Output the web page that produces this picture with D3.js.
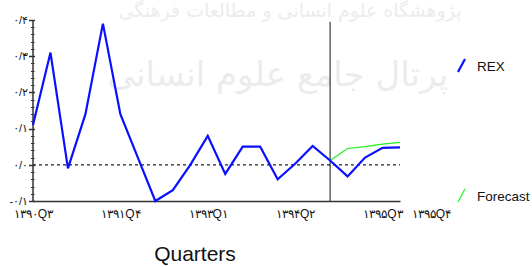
<!DOCTYPE html>
<html>
<head>
<meta charset="utf-8">
<script src="https://cdn.jsdelivr.net/npm/d3@7"></script>
<style>
  body { margin: 0; background: #fff; }
  svg { display: block; font-family: "Liberation Sans", "DejaVu Sans", Arial, sans-serif; }
</style>
</head>
<body>
<div id="chart"></div>
<script>
// quarters 1390Q3 .. 1395Q4
var quarters = ["۱۳۹۰Q۳", "۱۳۹۰Q۴",
  "۱۳۹۱Q۱", "۱۳۹۱Q۲", "۱۳۹۱Q۳", "۱۳۹۱Q۴",
  "۱۳۹۲Q۱", "۱۳۹۲Q۲", "۱۳۹۲Q۳", "۱۳۹۲Q۴",
  "۱۳۹۳Q۱", "۱۳۹۳Q۲", "۱۳۹۳Q۳", "۱۳۹۳Q۴",
  "۱۳۹۴Q۱", "۱۳۹۴Q۲", "۱۳۹۴Q۳", "۱۳۹۴Q۴",
  "۱۳۹۵Q۱", "۱۳۹۵Q۲", "۱۳۹۵Q۳", "۱۳۹۵Q۴"];

var rex = [0.11, 0.31, -0.01, 0.14, 0.39, 0.14, 0.02, -0.10, -0.07, 0.0, 0.08,
  -0.025, 0.05, 0.05, -0.04, 0.003, 0.052, 0.012, -0.032, 0.02, 0.047, 0.048];

var forecastQuarters = ["۱۳۹۴Q۴", "۱۳۹۵Q۱", "۱۳۹۵Q۲", "۱۳۹۵Q۳", "۱۳۹۵Q۴"];
var forecast = [0.012, 0.045, 0.05, 0.057, 0.062];

var xTickLabels = ["۱۳۹۰Q۳", "۱۳۹۱Q۴", "۱۳۹۳Q۱", "۱۳۹۴Q۲", "۱۳۹۵Q۳", "۱۳۹۵Q۴"];
var yTicks = [-0.1, 0, 0.1, 0.2, 0.3, 0.4];
var yTickLabels = ["-۰/۱", "۰/۰", "۰/۱", "۰/۲", "۰/۳", "۰/۴"];
var splitQuarter = "۱۳۹۴Q۴";
var seriesNames = ["REX", "Forecast"];

var width = 532, height = 267;
var margin = {top: 20, left: 33, bottom: 66, right: 132};

var svg = d3.select("#chart").append("svg")
  .attr("width", width)
  .attr("height", height);

// faint watermark in the background
var wm = svg.append("g").attr("fill", "#ececec").attr("font-family", "DejaVu Sans");
wm.append("text")
  .attr("x", 290).attr("y", 17)
  .attr("text-anchor", "middle")
  .attr("font-size", 19)
  .attr("direction", "rtl")
  .text("پژوهشگاه علوم انسانی و مطالعات فرهنگی");
wm.append("text")
  .attr("x", 278).attr("y", 86)
  .attr("text-anchor", "middle")
  .attr("font-size", 34)
  .attr("direction", "rtl")
  .text("پرتال جامع علوم انسانی");

var x = d3.scalePoint()
  .domain(quarters)
  .range([margin.left, width - margin.right]);

var y = d3.scaleLinear()
  .domain([-0.1, 0.4])
  .range([height - margin.bottom, margin.top]);

var x0 = x.range()[0], x1 = x.range()[1];

// zero line
svg.append("line")
  .attr("x1", x0).attr("x2", x1)
  .attr("y1", y(0)).attr("y2", y(0))
  .attr("stroke", "#222")
  .attr("stroke-width", 1.2)
  .attr("stroke-dasharray", "3,3");

// split line
svg.append("line")
  .attr("x1", x(splitQuarter)).attr("x2", x(splitQuarter))
  .attr("y1", y(0.395)).attr("y2", y(-0.1))
  .attr("stroke", "#111")
  .attr("stroke-width", 1);

// y axis
var yAxis = svg.append("g");
yAxis.append("line")
  .attr("x1", x0).attr("x2", x0)
  .attr("y1", y(0.4)).attr("y2", y(-0.1))
  .attr("stroke", "#333").attr("stroke-width", 1.5);

var minor = d3.range(-0.1, 0.4001, 0.02);
yAxis.selectAll(".minor")
  .data(minor)
  .enter().append("line")
  .attr("x1", x0 - 2).attr("x2", x0 + 1.5)
  .attr("y1", function(d) { return Math.round(y(d)) + 0.5; })
  .attr("y2", function(d) { return Math.round(y(d)) + 0.5; })
  .attr("stroke", "#333");

yAxis.selectAll(".major")
  .data(yTicks)
  .enter().append("line")
  .attr("x1", x0 - 4).attr("x2", x0 + 2)
  .attr("y1", function(d) { return Math.round(y(d)) + 0.5; })
  .attr("y2", function(d) { return Math.round(y(d)) + 0.5; })
  .attr("stroke", "#333").attr("stroke-width", 1.5);

yAxis.selectAll(".lab")
  .data(yTicks)
  .enter().append("text")
  .attr("x", x0 - 5)
  .attr("y", function(d) { return y(d); })
  .attr("dy", "0.35em")
  .attr("text-anchor", "end")
  .attr("font-size", 11)
  .attr("fill", "#111")
  .text(function(d, i) { return yTickLabels[i]; });

// x axis
var xAxis = svg.append("g")
  .attr("transform", "translate(0," + y(-0.1) + ")")
  .call(d3.axisBottom(x).tickValues(xTickLabels).tickSize(0).tickPadding(8));
xAxis.select(".domain").attr("stroke", "#333").attr("stroke-width", 1.5);
xAxis.selectAll("text")
  .attr("font-size", 12)
  .attr("fill", "#111")
  .attr("dx", function(d, i) { return i === xTickLabels.length - 1 ? 31 : 0; });

svg.append("text")
  .attr("x", 195).attr("y", 261)
  .attr("text-anchor", "middle")
  .attr("font-size", 21)
  .attr("fill", "#111")
  .text("Quarters");

// lines
var line = d3.line()
  .x(function(d) { return x(d.q); })
  .y(function(d) { return y(d.v); });

svg.append("path")
  .datum(forecastQuarters.map(function(q, i) { return {q: q, v: forecast[i]}; }))
  .attr("d", line)
  .attr("fill", "none")
  .attr("stroke", "#22ee22")
  .attr("stroke-width", 1.2);

svg.append("path")
  .datum(quarters.map(function(q, i) { return {q: q, v: rex[i]}; }))
  .attr("d", line)
  .attr("fill", "none")
  .attr("stroke", "#0a10ff")
  .attr("stroke-width", 2.2)
  .attr("stroke-linejoin", "miter");

// legend
var legendColors = ["#0a10ff", "#22ee22"];
var legendY = [66, 196];
var legend = svg.selectAll(".legend")
  .data(seriesNames)
  .enter().append("g")
  .attr("transform", function(d, i) { return "translate(458," + legendY[i] + ")"; });
legend.append("line")
  .attr("x1", 0).attr("y1", 6)
  .attr("x2", 7).attr("y2", -7)
  .attr("stroke", function(d, i) { return legendColors[i]; })
  .attr("stroke-width", function(d, i) { return i === 0 ? 2.2 : 1.2; });
legend.append("text")
  .attr("x", 19).attr("y", 5)
  .attr("font-size", 13.5)
  .attr("fill", "#111")
  .text(function(d) { return d; });
</script>
</body>
</html>
